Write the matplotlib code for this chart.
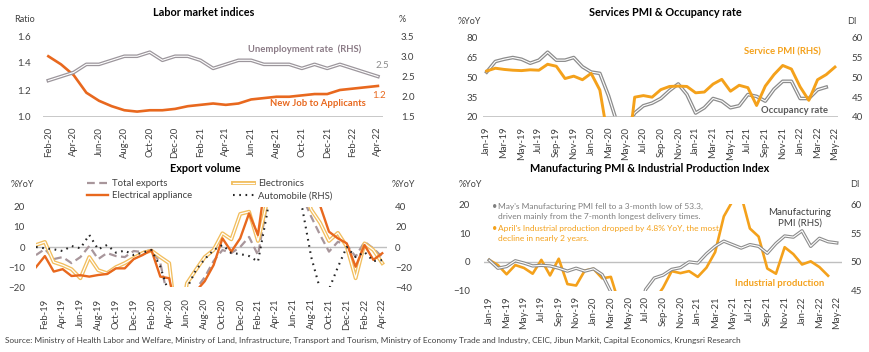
import numpy as np
import pandas as pd
import matplotlib
matplotlib.use('Agg')
import matplotlib.pyplot as plt
import matplotlib.patheffects as pe

plt.rcParams['font.family'] = ['Lato', 'DejaVu Sans']

nan = np.nan

# ---- data ----
labor_months = pd.date_range('2020-02-01', periods=27, freq='MS').strftime('%b-%y').tolist()
job_ratio = [1.45, 1.39, 1.31, 1.18, 1.12, 1.08, 1.05, 1.04, 1.05, 1.05, 1.06, 1.08, 1.09, 1.10,
             1.09, 1.10, 1.13, 1.14, 1.15, 1.15, 1.16, 1.17, 1.17, 1.20, 1.21, 1.22, 1.23]
unemp_rate = [2.4, 2.5, 2.6, 2.8, 2.8, 2.9, 3.0, 3.0, 3.1, 2.9, 3.0, 3.0, 2.9, 2.7,
              2.8, 2.9, 2.9, 2.8, 2.8, 2.8, 2.7, 2.8, 2.7, 2.8, 2.7, 2.6, 2.5]

pmi_months = pd.date_range('2019-01-01', periods=41, freq='MS').strftime('%b-%y').tolist()
occupancy = [54, 62, 63.7, 65, 63.7, 60.7, 63, 69, 63, 63, 65, 58, 54, 53, 36, 15, 12, 23, 28.5, 30.5,
             34, 40, 45, 37, 23, 27, 34, 32, 27, 28.5, 37, 35.6, 32, 41, 47, 47, 34, 34, 40.6, 42.6, nan]
service_pmi = [51.6, 52.3, 52.0, 51.8, 51.7, 51.9, 51.8, 53.3, 52.8, 49.7, 50.3, 49.4, 51.0, 46.8,
               33.8, 21.5, 26.5, 45.0, 45.4, 45.0, 46.9, 47.7, 47.8, 47.7, 46.1, 46.3, 48.3, 49.5,
               46.5, 48.0, 47.4, 42.9, 47.8, 50.7, 53.0, 52.1, 47.6, 44.2, 49.4, 50.7, 52.6]

export_months = pd.date_range('2019-01-01', periods=40, freq='MS').strftime('%b-%y').tolist()
total_exports = [-4, -1, -6, -5, -8, -5, 0.5, -6, -3, -4.5, -5, -2, -2.5, -1.5, -8, -28, -35, -30, -21, -15,
                 -7, -1.5, -3, 0, 5, -4, 20.5, 35, 40, 30, 25, 15, 6, -2.3, 2.6, 1, -4.8, 2.6, -0.7, -5]
electronics = [1, 2.5, -7.5, -9, -11, -15.5, -5, -11.5, -13, -10, -8, -5.5, -3, -1.8, -5, -8, -45, -18, -11.4, -5,
               -1.5, 6.8, 3.8, 16.4, 17.5, 3, 22, 45, 60, 45, 30, 18.5, 12, 3, 7, 0.2, -15.5, 1.8, -1.5, -8]
electrical = [-10, -4.5, -12.2, -11, -14.4, -14, -14.7, -13.9, -13.4, -10.6, -10.6, -6, -4, -1.5, -14.7, -15.5,
              -35, -30, -22, -17, -9, 4.3, -2.3, 4.3, 16.7, 6, 38, 60, 55, 45, 35, 30, 20.5, 7.6, 4.3, 1.8,
              -9.8, 1, -6.4, -3.1]
automobile = [0, -1.3, -2.3, -4, 1, -1.3, 12, -2.3, 2, -5.6, -3.6, -8, -5.6, -3, -19.5, -47, -65, -41, -23, -12,
              -3, 2, -6, -7, -9, -14.5, 32, 90, 150, 60, 38, -10, -42, -42, -20, 0, -10, -5, -14, -13]

mfg_pmi = [50.3, 48.9, 49.2, 50.2, 49.8, 49.3, 49.4, 49.3, 48.9, 48.4, 48.9, 48.4, 48.8, 47.8, 44.8, 41.9,
           38.4, 40.1, 45.2, 47.2, 47.7, 48.7, 49.0, 50.0, 49.8, 51.4, 52.7, 53.6, 53.0, 52.4, 53.0, 52.7,
           51.5, 53.2, 54.5, 54.3, 55.4, 52.7, 54.1, 53.5, 53.3]
ind_prod = [0.7, -1.1, -4.3, -1.1, -2.1, -4.1, 0.7, -4.7, 1.1, -7.7, -8.2, -3.0, -2.4, -5.7, -5.2, -15.0,
            -26.3, -18.2, -16.1, -13.3, -9.0, -3.2, -3.9, -3.2, -5.2, -2.0, 3.4, 15.8, 21.1, 23.0, 11.6, 8.8,
            -2.3, -4.1, 5.1, 2.7, -0.9, 0.2, -1.8, -4.8, nan]

# ---- colours ----
DARK_ORANGE = '#E8681E'
GOLD = '#F4A11B'
LIGHT_GOLD = '#F2BE5E'
GREY = '#8C8C8C'
MAUVE = '#A8969B'
TXT = '#404040'
AXLINE = '#BFBFBF'

W, H = 870, 352
fig = plt.figure(figsize=(W / 100, H / 100), dpi=100)


def px_axes(x0, y0, x1, y1):
    # pixel box (left, top, right, bottom) -> figure axes
    return fig.add_axes([x0 / W, 1 - y1 / H, (x1 - x0) / W, (y1 - y0) / H])


def ftext(x, y, s, **kw):
    kw.setdefault('color', TXT)
    kw.setdefault('fontsize', 7)
    fig.text(x / W, 1 - y / H, s, **kw)


def double_line(ax, x, y, color, outer=2.6, inner=0.8, **kw):
    return ax.plot(x, y, color='white', lw=inner,
                   path_effects=[pe.Stroke(linewidth=outer, foreground=color), pe.Normal()], **kw)


def style(ax, ypad=6, xpad=6):
    for s in ax.spines.values():
        s.set_visible(False)
    ax.tick_params(length=0, labelsize=7, labelcolor=TXT, pad=ypad, axis='y')
    ax.tick_params(length=0, labelsize=6.8, labelcolor=TXT, pad=xpad, axis='x')
    ax.patch.set_alpha(0)


# ---- Panel 1: labor market ----
ax1 = px_axes(43, 36, 383, 117)
x1 = np.arange(len(labor_months))
ax1.plot(x1, job_ratio, color=DARK_ORANGE, lw=1.9)
ax1.set_ylim(1.0, 1.6)
ax1.set_yticks([1.0, 1.2, 1.4, 1.6])
ax1.set_yticklabels(['1.0', '1.2', '1.4', '1.6'])
ax1.set_xlim(-0.42, 26.4)
ax1.set_xticks(x1[::2])
ax1.set_xticklabels(labor_months[::2], rotation=90)
ax1.axhline(1.0, color=AXLINE, lw=1.2)
style(ax1, ypad=9, xpad=7)
ax1r = ax1.twinx()
double_line(ax1r, x1, unemp_rate, '#9C969C')
ax1r.set_ylim(1.5, 3.5)
ax1r.set_yticks([1.5, 2.0, 2.5, 3.0, 3.5])
ax1r.set_yticklabels(['1.5', '2.0', '2.5', '3.0', '3.5'])
style(ax1r, ypad=13)

ftext(204, 12, 'Labor market indices', fontsize=7.8, fontweight='bold', color='black', ha='center', va='center')
ftext(25, 19, 'Ratio', fontsize=6.5, ha='center', va='center')
ftext(402, 20, '%', fontsize=6.5, ha='center', va='center')
ftext(305, 49, 'Unemployment rate  (RHS)', fontsize=6.8, fontweight='bold', color='#8B7B86', ha='center', va='center')
ftext(318, 104, 'New Job to Applicants', fontsize=6.8, fontweight='bold', color=DARK_ORANGE, ha='center', va='center')
ftext(382, 66, '2.5', fontsize=7, color=GREY, ha='center', va='center')
ftext(379, 95, '1.2', fontsize=7, color=DARK_ORANGE, ha='center', va='center')

# ---- Panel 2: services PMI & occupancy ----
ax2 = px_axes(483, 37.7, 838, 117)
x2 = np.arange(len(pmi_months))
double_line(ax2, x2, occupancy, GREY)
ax2.set_ylim(20, 80)
ax2.set_yticks([20, 35, 50, 65, 80])
ax2.set_xlim(-0.42, 40.35)
ax2.set_xticks(x2[::2])
ax2.set_xticklabels(pmi_months[::2], rotation=90)
ax2.axhline(20, color=AXLINE, lw=1.2)
style(ax2, ypad=4, xpad=7)
ax2r = ax2.twinx()
ax2r.plot(x2, service_pmi, color=GOLD, lw=2.1)
ax2r.set_ylim(40, 60)
ax2r.set_yticks([40, 45, 50, 55, 60])
style(ax2r, ypad=10)

ftext(665, 12, 'Services PMI & Occupancy rate', fontsize=7.8, fontweight='bold', color='black', ha='center', va='center')
ftext(469, 22, '%YoY', fontsize=6.5, ha='center', va='center')
ftext(852, 21, 'DI', fontsize=6.5, ha='center', va='center')
ftext(782, 52, 'Service PMI (RHS)', fontsize=6.8, fontweight='bold', color=GOLD, ha='center', va='center')
ftext(795, 110.5, 'Occupancy rate', fontsize=6.8, fontweight='bold', color='#595959', ha='center', va='center')

# ---- Panel 3: export volume ----
ax3 = px_axes(36, 206.7, 386.7, 287.3)
x3 = np.arange(len(export_months))
ax3.axhline(0, color=AXLINE, lw=1.0)
ax3.plot(x3, total_exports, color=MAUVE, lw=1.6, dashes=(3.5, 2), label='Total exports')
double_line(ax3, x3, electronics, LIGHT_GOLD, outer=2.8, inner=0.9, label='Electronics')
ax3.plot(x3, electrical, color=DARK_ORANGE, lw=1.7, label='Electrical appliance')
ax3.set_ylim(-20, 20)
ax3.set_yticks([-20, -10, 0, 10, 20])
ax3.set_xlim(0, 39.5)
ax3.set_xticks(x3[1::2])
ax3.set_xticklabels(export_months[1::2], rotation=90)
style(ax3, ypad=8, xpad=8)
ax3r = ax3.twinx()
ax3r.plot(x3, automobile, color='#262626', lw=1.5, dashes=(0.8, 2.2), label='Automobile (RHS)')
ax3r.set_ylim(-40, 40)
ax3r.set_yticks([-40, -20, 0, 20, 40])
style(ax3r, ypad=6)

h3, l3 = ax3.get_legend_handles_labels()
h3r, l3r = ax3r.get_legend_handles_labels()
# order so rows read: Total exports, Electronics / Electrical appliance, Automobile
handles = [h3[0], h3[2], h3[1], h3r[0]]
labels = [l3[0], l3[2], l3[1], l3r[0]]
fig.legend(handles, labels, ncol=2, loc='upper left', bbox_to_anchor=(87 / W, 1 - 179 / H),
           frameon=False, fontsize=6.8, handlelength=2.2, handletextpad=0.45, columnspacing=4.3,
           labelspacing=0.35, borderpad=0, borderaxespad=0, labelcolor=TXT)

ftext(205, 168, 'Export volume', fontsize=7.8, fontweight='bold', color='black', ha='center', va='center')
ftext(22, 185, '%YoY', fontsize=6.5, ha='center', va='center')
ftext(403, 185, '%YoY', fontsize=6.5, ha='center', va='center')

# ---- Panel 4: manufacturing PMI & industrial production ----
ax4 = px_axes(484, 204.3, 842, 290.7)
x4 = np.arange(len(pmi_months))
ax4.axhline(0, color=AXLINE, lw=1.0)
ax4.plot(x4, ind_prod, color=GOLD, lw=1.9)
ax4.set_ylim(-10, 20)
ax4.set_yticks([-10, 0, 10, 20])
ax4.set_xlim(-0.6, 40.6)
ax4.set_xticks(x4[::2])
ax4.set_xticklabels(pmi_months[::2], rotation=90)
style(ax4, ypad=10, xpad=4)
ax4r = ax4.twinx()
double_line(ax4r, x4, mfg_pmi, GREY, outer=2.4, inner=0.8)
ax4r.set_ylim(45, 60)
ax4r.set_yticks([45, 50, 55, 60])
style(ax4r, ypad=6)

ftext(650, 168, 'Manufacturing PMI & Industrial Production Index', fontsize=7.8, fontweight='bold',
      color='black', ha='center', va='center')
ftext(470, 185, '%YoY', fontsize=6.5, ha='center', va='center')
ftext(855, 185, 'DI', fontsize=6.5, ha='center', va='center')
ann_grey = '#7F7F7F'
ftext(492, 206.7, '\u2022', fontsize=6.5, color=ann_grey, va='center')
ftext(498, 206.7, "May's Manufacturing PMI fell to a 3-month low of 53.3,", fontsize=6.0, color=ann_grey, va='center')
ftext(498, 216.7, 'driven mainly from the 7-month longest delivery times.', fontsize=6.0, color=ann_grey, va='center')
ftext(492, 228.3, '\u2022', fontsize=6.5, color=GOLD, va='center')
ftext(498, 228.3, "April's Industrial production dropped by 4.8% YoY, the most", fontsize=6.0, color=GOLD, va='center')
ftext(498, 238.3, 'decline in nearly 2 years.', fontsize=6.0, color=GOLD, va='center')
ftext(800, 218, 'Manufacturing\nPMI (RHS)', fontsize=7, color=TXT, ha='center', va='center', linespacing=1.2)
ftext(780, 284, 'Industrial production', fontsize=6.8, fontweight='bold', color=GOLD, ha='center', va='center')

# ---- source ----
ftext(5, 340, 'Source: Ministry of Health Labor and Welfare, Ministry of Land, Infrastructure, Transport and Tourism, '
      'Ministry of Economy Trade and Industry, CEIC, Jibun Markit, Capital Economics, Krungsri Research',
      fontsize=5.95, va='center')

fig.savefig('out.png', dpi=100)
